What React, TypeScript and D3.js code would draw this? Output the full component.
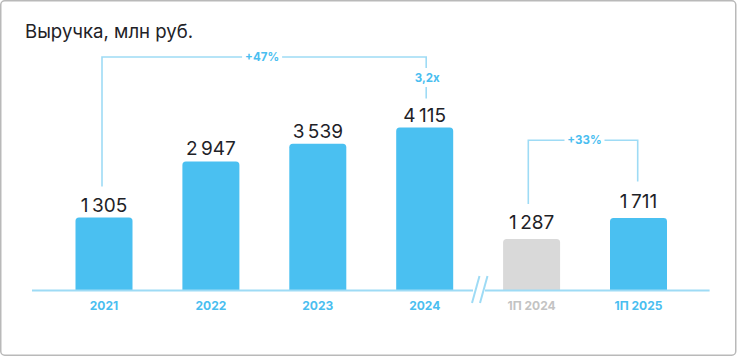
import React from "react";
import * as d3 from "d3";

const categories = ["2021", "2022", "2023", "2024", "1П 2024", "1П 2025"];
const revenue = [1305, 2947, 3539, 4115, 1287, 1711];
const periodType = ["year", "year", "year", "year", "half", "half"];
const highlighted = [true, true, true, true, false, true];
const title = "Выручка, млн руб.";
const bracketFrom = ["2021", "1П 2024"];
const bracketTo = ["2024", "1П 2025"];
const bracketLabels = ["+47%", "+33%"];
const multipleLabel = "3,2x";

const W = 738;
const H = 357;
const BASE = 290.5;
const BLUE = "#4ac0f1";
const GRAY = "#d9d9d9";
const LINE = "#9edbf5";
const TXT_BLUE = "#4abef0";
const DARK = "#1e2227";
const FONT = "Inter, 'Noto Sans', sans-serif";

const fmt = d3.formatLocale({ decimal: ",", thousands: "\u2009", grouping: [3], currency: ["", ""] }).format(",");

const x = d3.scalePoint<string>().domain(categories).range([104, 638.5]);
const yearH = d3.scalePow().exponent(0.7).domain([0, 4115]).range([0, 163]);
const halfH = d3.scaleLinear().domain([250, 1711]).range([0, 72.5]);
const BW = 57;

function barH(i: number) {
  return periodType[i] === "year" ? yearH(revenue[i]) : halfH(revenue[i]);
}
function labelBase(i: number) {
  return BASE - barH(i) - (periodType[i] === "year" ? 6 : 10);
}
function labelTop(i: number) {
  return labelBase(i) - 14;
}

function topRounded(x0: number, y0: number, w: number, h: number, r: number) {
  const p = d3.path();
  p.moveTo(x0, y0 + h);
  p.lineTo(x0, y0 + r);
  p.arcTo(x0, y0, x0 + r, y0, r);
  p.lineTo(x0 + w - r, y0);
  p.arcTo(x0 + w, y0, x0 + w, y0 + r, r);
  p.lineTo(x0 + w, y0 + h);
  p.closePath();
  return p.toString();
}

export default function App() {
  const bracketY = [57, 140.3];
  const idx = (c: string) => categories.indexOf(c);
  return (
    <svg width={W} height={H} style={{ position: "absolute", left: 0, top: 0, fontFamily: FONT }}>
      <rect x={0.75} y={0.75} width={735} height={354.5} rx={4} fill="#fff" stroke="#b9b9b9" strokeWidth={1.5} />
      <text x={25} y={38.3} fontSize={18.6} fill={DARK}>{title}</text>

      {/* brackets */}
      {bracketLabels.map((lab, k) => {
        const a = idx(bracketFrom[k]);
        const b = idx(bracketTo[k]);
        const xa = (x(bracketFrom[k]) as number) - (k === 0 ? 2 : 3.3);
        const xb = (x(bracketTo[k]) as number) + (k === 0 ? 1.5 : -0.8);
        const yb = bracketY[k];
        const mid = (xa + xb) / 2 + (k === 0 ? -2 : 1.5);
        return (
          <g key={lab}>
            <path
              d={`M${xa},${labelTop(a) - 11}V${yb}H${mid - 20}M${mid + 20},${yb}H${xb}V${k === 0 ? yb + 11 : labelTop(b) - 12.5}`}
              fill="none"
              stroke={LINE}
              strokeWidth={1.6}
            />
            {k === 0 && (
              <>
                <line x1={xb} x2={xb} y1={87} y2={labelTop(b) - 9} stroke={LINE} strokeWidth={1.6} />
                <text x={xb + 1} y={81.5} textAnchor="middle" fontSize={11.5} fontWeight={700} fill={TXT_BLUE}>{multipleLabel}</text>
              </>
            )}
            <text x={mid} y={yb + 4} textAnchor="middle" fontSize={11.5} fontWeight={700} fill={TXT_BLUE}>{lab}</text>
          </g>
        );
      })}

      {/* bars */}
      {categories.map((c, i) => {
        const cx = x(c) as number;
        const h = barH(i);
        return (
          <g key={c}>
            <path d={topRounded(cx - BW / 2, BASE - h, BW, h, 3.5)} fill={highlighted[i] ? BLUE : GRAY} />
            <text x={cx} y={labelBase(i)} textAnchor="middle" fontSize={19} fill={DARK}>{fmt(revenue[i])}</text>
            <text x={cx} y={310.3} textAnchor="middle" fontSize={12} fontWeight={700} fill={highlighted[i] ? TXT_BLUE : "#c3c3c3"}>{c}</text>
          </g>
        );
      })}

      {/* axis with break */}
      <line x1={32} x2={473} y1={BASE} y2={BASE} stroke={LINE} strokeWidth={2} />
      <line x1={485} x2={709.6} y1={BASE} y2={BASE} stroke={LINE} strokeWidth={2} />
      <line x1={472} y1={303} x2={479.5} y2={276} stroke={LINE} strokeWidth={2} />
      <line x1={480} y1={303} x2={487.5} y2={276} stroke={LINE} strokeWidth={2} />
    </svg>
  );
}
